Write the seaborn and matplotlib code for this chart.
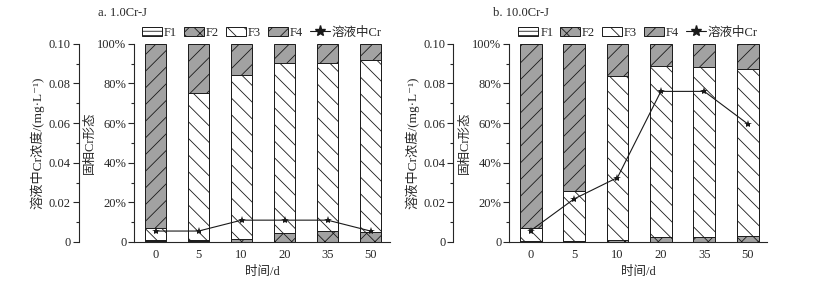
import numpy as np
import matplotlib
matplotlib.use("Agg")
import matplotlib.pyplot as plt
from matplotlib.patches import Patch
from matplotlib.lines import Line2D
from matplotlib.ticker import MultipleLocator, FuncFormatter
import seaborn as sns

# sampling days
days = ["0", "5", "10", "20", "35", "50"]

# panel a: 1.0Cr-J, solid-phase Cr fractions (%)
a_f1 = [0.4, 0.3, 0.2, 0.2, 0.2, 0.2]
a_f2 = [0.4, 0.5, 1.3, 4.5, 5.5, 4.8]
a_f3 = [6.4, 74.2, 83.0, 85.6, 84.6, 86.8]
a_f4 = [92.8, 25.0, 15.5, 9.7, 9.7, 8.2]
a_conc = [0.0055, 0.0055, 0.011, 0.011, 0.011, 0.0055]  # Cr in solution, mg/L

# panel b: 10.0Cr-J
b_f1 = [0.2, 0.3, 0.2, 0.2, 0.2, 0.2]
b_f2 = [0.2, 0.3, 0.8, 2.3, 2.4, 2.6]
b_f3 = [6.5, 25.3, 83.0, 86.5, 85.6, 84.4]
b_f4 = [93.1, 74.1, 16.0, 11.0, 11.8, 12.8]
b_conc = [0.0057, 0.0217, 0.0325, 0.076, 0.076, 0.0596]

sns.set_theme(style="ticks")
plt.rcParams["font.family"] = ["Liberation Serif", "Noto Sans CJK SC", "DejaVu Serif"]
plt.rcParams["hatch.linewidth"] = 0.6
plt.rcParams["axes.linewidth"] = 0.8

GRAY = "#a2a2a2"
styles = [("F1", "white", "----"), ("F2", GRAY, "xx"),
          ("F3", "white", "\\\\"), ("F4", GRAY, "//")]
FS = 9


def pct(v, pos):
    return "0" if v == 0 else "%d%%" % v


def conc_fmt(v, pos):
    return "0" if abs(v) < 1e-9 else "%.2f" % v


def panel(ax, fracs, conc, title, tx):
    # stacked bars drawn as overlapping cumulative totals, top layer first
    cum = np.cumsum(np.array(fracs), axis=0)
    for i in range(len(fracs) - 1, -1, -1):
        name, fc, h = styles[i]
        sns.barplot(x=days, y=cum[i], ax=ax, color=fc, edgecolor="k",
                    linewidth=0.7, width=0.5, hatch=h, saturation=1)
    ax.set_ylim(0, 100)
    ax.set_xlim(-0.5, 5.45)
    ax.yaxis.set_major_locator(MultipleLocator(20))
    ax.yaxis.set_minor_locator(MultipleLocator(10))
    ax.yaxis.set_major_formatter(FuncFormatter(pct))
    ax.tick_params(axis="y", which="major", length=4, width=0.8, labelsize=FS, pad=1.5)
    ax.tick_params(axis="y", which="minor", length=2.5, width=0.8)
    ax.tick_params(axis="x", length=0, labelsize=FS, pad=5)
    ax.set_ylabel("固相Cr形态", fontsize=FS, labelpad=1)
    ax.set_xlabel("时间/d", fontsize=FS, labelpad=4)
    sns.despine(ax=ax)

    # concentration axis on the left, offset outward
    ax2 = ax.twinx()
    sns.lineplot(x=np.arange(len(days)), y=conc, ax=ax2, color="k",
                 marker="*", markersize=6, linewidth=0.8, markeredgewidth=0)
    ax2.set_ylim(0, 0.1)
    ax2.set_xlim(-0.5, 5.45)
    ax2.yaxis.tick_left()
    ax2.yaxis.set_label_position("left")
    for s in ["right", "top", "bottom"]:
        ax2.spines[s].set_visible(False)
    ax2.spines["left"].set_visible(True)
    ax2.spines["left"].set_position(("outward", 40))
    ax2.yaxis.set_major_locator(MultipleLocator(0.02))
    ax2.yaxis.set_minor_locator(MultipleLocator(0.01))
    ax2.yaxis.set_major_formatter(FuncFormatter(conc_fmt))
    ax2.tick_params(axis="y", which="major", length=4, width=0.8, labelsize=FS, pad=1.5)
    ax2.tick_params(axis="y", which="minor", length=2.5, width=0.8)
    ax2.set_ylabel("溶液中Cr浓度/(mg·L⁻¹)", fontsize=9.5, labelpad=3)

    handles = [Patch(facecolor=fc, edgecolor="k", hatch=h, linewidth=0.7, label=n)
               for n, fc, h in styles]
    handles.append(Line2D([], [], color="k", marker="*", markersize=8,
                          linewidth=0.8, label="溶液中Cr"))
    ax.legend(handles=handles, loc="lower center", bbox_to_anchor=(0.5, 1.0),
              ncol=5, frameon=False, fontsize=FS, handlelength=1.6,
              handleheight=0.8, handletextpad=0.15, columnspacing=0.55,
              borderaxespad=0.2, borderpad=0.2)
    ax.figure.text(tx, 0.955, title, fontsize=FS, ha="left", va="center")


fig = plt.figure(figsize=(8.33, 2.81), dpi=100)
bottom, height = 0.139, 0.705
ax_a = fig.add_axes([0.161, bottom, 0.307, height])
ax_b = fig.add_axes([0.611, bottom, 0.310, height])

panel(ax_a, [a_f1, a_f2, a_f3, a_f4], a_conc, "a. 1.0Cr-J", 0.118)
panel(ax_b, [b_f1, b_f2, b_f3, b_f4], b_conc, "b. 10.0Cr-J", 0.592)

fig.savefig("out.png", dpi=100)
